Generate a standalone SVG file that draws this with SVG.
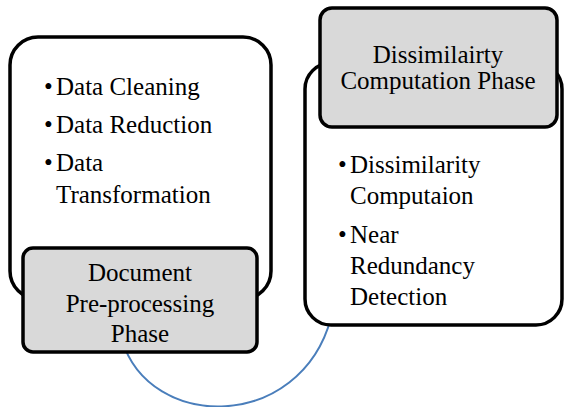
<svg xmlns="http://www.w3.org/2000/svg" width="565" height="407" viewBox="0 0 565 407">
  <rect width="565" height="407" fill="#ffffff"/>
  <g id="connectors">
    <path d="M 122 340 C 150 432, 300 432, 331 318" fill="none" stroke="#4a7ebb" stroke-width="2"/>
  </g>
  <g id="preprocessing">
    <rect x="10" y="37" width="261" height="262" rx="28" fill="#ffffff" stroke="#000000" stroke-width="3.5"/>
    <text font-family="Liberation Serif" font-size="25" x="44" y="95">•</text>
    <text font-family="Liberation Serif" font-size="25" x="56" y="95">Data Cleaning</text>
    <text font-family="Liberation Serif" font-size="25" x="44" y="133">•</text>
    <text font-family="Liberation Serif" font-size="25" x="56" y="133">Data Reduction</text>
    <text font-family="Liberation Serif" font-size="25" x="44" y="171">•</text>
    <text font-family="Liberation Serif" font-size="25" x="56" y="171">Data</text>
    <text font-family="Liberation Serif" font-size="25" x="56" y="203">Transformation</text>
  </g>
  <g id="preprocessing-phase">
    <rect x="23" y="248" width="234" height="104" rx="10" fill="#d9d9d9" stroke="#000000" stroke-width="3.5"/>
    <text font-family="Liberation Serif" font-size="25" text-anchor="middle" x="140" y="281">Document</text>
    <text font-family="Liberation Serif" font-size="25" text-anchor="middle" x="140" y="312">Pre-processing</text>
    <text font-family="Liberation Serif" font-size="25" text-anchor="middle" x="140" y="342">Phase</text>
  </g>
  <g id="dissimilarity">
    <rect x="305" y="63" width="257" height="262" rx="26" fill="#ffffff" stroke="#000000" stroke-width="3.5"/>
    <text font-family="Liberation Serif" font-size="25" x="338" y="173">•</text>
    <text font-family="Liberation Serif" font-size="25" x="350" y="173">Dissimilarity</text>
    <text font-family="Liberation Serif" font-size="25" x="350" y="204">Computaion</text>
    <text font-family="Liberation Serif" font-size="25" x="338" y="243">•</text>
    <text font-family="Liberation Serif" font-size="25" x="350" y="243">Near</text>
    <text font-family="Liberation Serif" font-size="25" x="350" y="274">Redundancy</text>
    <text font-family="Liberation Serif" font-size="25" x="350" y="305">Detection</text>
  </g>
  <g id="dissimilarity-phase">
    <rect x="320" y="8" width="237" height="119" rx="12" fill="#d9d9d9" stroke="#000000" stroke-width="3.5"/>
    <text font-family="Liberation Serif" font-size="25" text-anchor="middle" x="438" y="63">Dissimilairty</text>
    <text font-family="Liberation Serif" font-size="25" text-anchor="middle" x="438" y="89">Computation Phase</text>
  </g>
</svg>
